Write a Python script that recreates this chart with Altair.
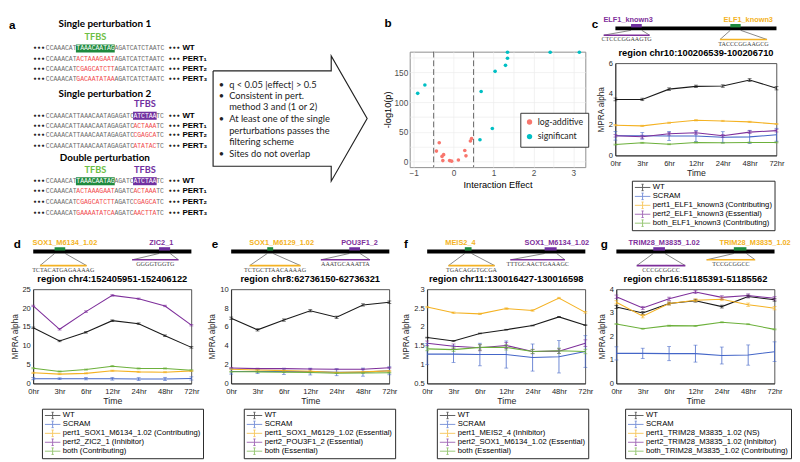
import altair as alt
import pandas as pd

FONT = "Liberation Sans"
TXT = "#262626"

# ---------------------------------------------------------------- panel a
A_TITLES = ["Single perturbation 1", "Single perturbation 2", "Double perturbation"]
A_ROW_LABELS = ["WT", "PERT\u2081", "PERT\u2082", "PERT\u2083"]
SP1 = [
    [("CCAAACAT", "n"), ("TAAACAATAG", "g"), ("AGATCATCTAATC", "n")],
    [("CCAAACAT", "n"), ("ACTAAAGAAT", "r"), ("AGATCATCTAATC", "n")],
    [("CCAAACAT", "n"), ("CGAGCATCTT", "r"), ("AGATCATCTAATC", "n")],
    [("CCAAACAT", "n"), ("GACAATATAA", "r"), ("AGATCATCTAATC", "n")],
]
SP2 = [
    [("CCAAACATTAAACAATAGAGATC", "n"), ("ATCTAA", "p"), ("TC", "n")],
    [("CCAAACATTAAACAATAGAGATC", "n"), ("ACTAAA", "r"), ("TC", "n")],
    [("CCAAACATTAAACAATAGAGATC", "n"), ("CGAGCA", "r"), ("TC", "n")],
    [("CCAAACATTAAACAATAGAGATC", "n"), ("ATATAC", "r"), ("TC", "n")],
]
DP = [
    [("CCAAACAT", "n"), ("TAAACAATAG", "g"), ("AGATC", "n"), ("ATCTAA", "p"), ("TC", "n")],
    [("CCAAACAT", "n"), ("ACTAAAGAAT", "r"), ("AGATC", "n"), ("ACTAAA", "r"), ("TC", "n")],
    [("CCAAACAT", "n"), ("CGAGCATCTT", "r"), ("AGATC", "n"), ("CGAGCA", "r"), ("TC", "n")],
    [("CCAAACAT", "n"), ("GAAAATATCA", "r"), ("AGATC", "n"), ("AACTTA", "r"), ("TC", "n")],
]
FILTER_BULLETS = ["\u2022", "\u2022", "", "\u2022", "", "", "\u2022"]
FILTER_TEXT = ["q < 0.05 |effect| > 0.5", "Consistent in pert.", "method 3 and (1 or 2)",
               "At least one of the single", "perturbations passes the", "filtering scheme",
               "Sites do not overlap"]
ARROW_X = [216, 341, 341, 379, 341, 341, 216, 216]
ARROW_Y = [60, 60, 44, 111, 178, 162, 162, 60]

# ---------------------------------------------------------------- panel b
B_LOGADD_X = [-0.36, -0.43, -0.25, -0.29, -0.27, -0.10, -0.05, 0.12, 0.28, 0.31, 0.42, 0.45]
B_LOGADD_Y = [32, 18, 12, 9, 2, 2, 1, 3, 19, 10, 35, 39]
B_SIG_X = [-0.90, -0.72, 0.66, 0.69, 0.97, 1.04, 1.30, 1.35, 1.35, 2.42, 3.15]
B_SIG_Y = [115, 129, 37, 118, 56, 152, 162, 174, 184, 184, 184]
B_THRESH = [-0.5, 0.5]

# ---------------------------------------------------------------- panels c-g
TIMES = ["0hr", "3hr", "6hr", "12hr", "24hr", "48hr", "72hr"]
SERIES_COLORS = ["#1A1A1A", "#4466C8", "#F4B223", "#7E2F9B", "#6CB03B"]
ROLE_COLORS = ["#F4B223", "#7E2F9B"]  # pert1, pert2
REGION_LEN = 171

SCRAM = [1.28, 1.28, 1.27, 1.27, 1.19, 1.21, 1.35]
SCRAM_ERR = [0.28, 0.22, 0.30, 0.36, 0.36, 0.43, 0.42]

C_TITLE = "region chr10:100206539-100206710"
C_LABELS = ["WT", "SCRAM", "pert1_ELF1_known3 (Contributing)", "pert2_ELF1_known3 (Essential)",
            "both_ELF1_known3 (Contributing)"]
C_WT = [3.65, 3.65, 4.32, 4.50, 4.52, 4.91, 4.38]
C_WT_ERR = [0.09, 0.08, 0.08, 0.08, 0.08, 0.09, 0.11]
C_P1 = [1.97, 1.93, 2.13, 2.29, 2.25, 2.19, 2.05]
C_P1_ERR = [0.04, 0.04, 0.04, 0.04, 0.04, 0.04, 0.04]
C_P2 = [1.28, 1.22, 1.42, 1.48, 1.28, 1.52, 1.62]
C_P2_ERR = [0.08, 0.10, 0.09, 0.10, 0.09, 0.09, 0.09]
C_BOTH = [0.71, 0.83, 0.73, 0.85, 0.83, 0.85, 0.85]
C_BOTH_ERR = [0.03, 0.03, 0.03, 0.03, 0.03, 0.03, 0.03]
C_MOTIF_NAMES = ["ELF1_known3", "ELF1_known3"]
C_MOTIF_ROLES = ["pert2", "pert1"]
C_MOTIF_BP = [(16.6, 28.0), (122.0, 133.0)]
C_ZOOM_BP = [(-12.4, 36.3), (111.0, 161.0)]
C_LABEL_BP = [13.5, 141.0]
C_SEQS = ["CTCCCGGAAGTG", "TACCCGGAAGCG"]

D_TITLE = "region chr4:152405951-152406122"
D_LABELS = ["WT", "SCRAM", "pert1_SOX1_M6134_1.02 (Contributing)", "pert2_ZIC2_1 (Inhibitor)",
            "both (Contributing)"]
D_WT = [14.8, 11.3, 13.6, 16.7, 15.9, 12.7, 9.6]
D_WT_ERR = [0.2, 0.2, 0.2, 0.2, 0.2, 0.2, 0.2]
D_P1 = [2.85, 2.5, 2.7, 3.4, 3.1, 3.0, 3.35]
D_P1_ERR = [0.15, 0.15, 0.15, 0.15, 0.15, 0.15, 0.15]
D_P2 = [20.6, 14.4, 19.1, 23.4, 22.5, 20.6, 15.5]
D_P2_ERR = [0.2, 0.2, 0.2, 0.2, 0.2, 0.2, 0.2]
D_BOTH = [4.05, 3.2, 3.7, 4.6, 4.0, 4.0, 3.5]
D_BOTH_ERR = [0.15, 0.15, 0.15, 0.15, 0.15, 0.15, 0.15]
D_MOTIF_NAMES = ["SOX1_M6134_1.02", "ZIC2_1"]
D_MOTIF_ROLES = ["pert1", "pert2"]
D_MOTIF_BP = [(23.1, 34.6), (136.0, 148.0)]
D_ZOOM_BP = [(7.3, 57.7), (107.0, 157.0)]
D_LABEL_BP = [34.3, 138.5]
D_SEQS = ["TCTACATGAGAAAAG", "GGGGTGGTG"]

E_TITLE = "region chr8:62736150-62736321"
E_LABELS = ["WT", "SCRAM", "pert1_SOX1_M6129_1.02 (Essential)", "pert2_POU3F1_2 (Essential)",
            "both (Essential)"]
E_WT = [6.94, 5.70, 6.74, 7.73, 7.04, 8.35, 8.63]
E_WT_ERR = [0.12, 0.12, 0.12, 0.12, 0.12, 0.12, 0.14]
E_P1 = [1.51, 1.44, 1.37, 1.31, 1.17, 1.24, 1.34]
E_P1_ERR = [0.05, 0.05, 0.05, 0.05, 0.05, 0.05, 0.05]
E_P2 = [1.65, 1.58, 1.58, 1.55, 1.51, 1.51, 1.68]
E_P2_ERR = [0.05, 0.05, 0.05, 0.05, 0.05, 0.05, 0.05]
E_BOTH = [1.25, 1.24, 1.20, 1.17, 1.10, 1.12, 1.15]
E_BOTH_ERR = [0.04, 0.04, 0.04, 0.04, 0.04, 0.04, 0.04]
E_MOTIF_NAMES = ["SOX1_M6129_1.02", "POU3F1_2"]
E_MOTIF_ROLES = ["pert1", "pert2"]
E_MOTIF_BP = [(39.0, 45.4), (127.7, 139.3)]
E_ZOOM_BP = [(20.0, 75.0), (97.0, 150.0)]
E_LABEL_BP = [54.6, 138.8]
E_SEQS = ["TCTGCTTAACAAAAG", "AAATGCAAATTA"]

F_TITLE = "region chr11:130016427-130016598"
F_LABELS = ["WT", "SCRAM", "pert1_MEIS2_4 (Inhibitor)", "pert2_SOX1_M6134_1.02 (Essential)",
            "both (Essential)"]
F_WT = [1.72, 1.63, 1.83, 1.93, 2.04, 2.27, 2.05]
F_WT_ERR = [0.01, 0.01, 0.01, 0.01, 0.01, 0.01, 0.01]
F_P1 = [2.53, 2.38, 2.35, 2.49, 2.44, 2.77, 2.39]
F_P1_ERR = [0.02, 0.02, 0.02, 0.02, 0.02, 0.02, 0.02]
F_P2 = [1.57, 1.49, 1.45, 1.51, 1.35, 1.36, 1.57]
F_P2_ERR = [0.06, 0.06, 0.08, 0.08, 0.06, 0.06, 0.09]
F_BOTH = [1.42, 1.40, 1.46, 1.46, 1.35, 1.37, 1.35]
F_BOTH_ERR = [0.05, 0.05, 0.07, 0.07, 0.05, 0.07, 0.06]
F_MOTIF_NAMES = ["MEIS2_4", "SOX1_M6134_1.02"]
F_MOTIF_ROLES = ["pert1", "pert2"]
F_MOTIF_BP = [(40.7, 48.0), (127.0, 140.0)]
F_ZOOM_BP = [(23.0, 73.0), (90.0, 149.0)]
F_LABEL_BP = [36.0, 140.2]
F_SEQS = ["TGACAGGTGCGA", "TTTGCAACTGAAAGC"]

G_TITLE = "region chr16:51185391-51185562"
G_LABELS = ["WT", "SCRAM", "pert1_TRIM28_M3835_1.02 (NS)", "pert2_TRIM28_M3835_1.02 (Inhibitor)",
            "both_TRIM28_M3835_1.02 (Contributing)"]
G_WT = [3.25, 3.00, 3.40, 3.52, 3.27, 3.70, 3.56]
G_WT_ERR = [0.06, 0.06, 0.06, 0.06, 0.06, 0.06, 0.06]
G_P1 = [3.45, 2.86, 3.40, 3.54, 3.58, 3.35, 3.20]
G_P1_ERR = [0.07, 0.07, 0.06, 0.06, 0.06, 0.07, 0.07]
G_P2 = [3.69, 3.21, 3.60, 3.89, 3.66, 3.74, 3.62]
G_P2_ERR = [0.07, 0.07, 0.07, 0.07, 0.07, 0.07, 0.07]
G_BOTH = [2.53, 2.33, 2.46, 2.45, 2.60, 2.52, 2.30]
G_BOTH_ERR = [0.02, 0.02, 0.02, 0.02, 0.02, 0.02, 0.02]
G_MOTIF_NAMES = ["TRIM28_M3835_1.02", "TRIM28_M3835_1.02"]
G_MOTIF_ROLES = ["pert2", "pert1"]
G_MOTIF_BP = [(39.9, 52.5), (127.0, 140.6)]
G_ZOOM_BP = [(22.0, 74.5), (97.6, 150.0)]
G_LABEL_BP = [51.7, 150.0]
G_SEQS = ["CCCGCGGCC", "TCCGCGGCC"]

NO_STROKE = alt.ViewBackground(stroke="transparent")
BOX = alt.ViewBackground(stroke=TXT, strokeWidth=0.8)


# ================================================================ panel a
def panel_a():
    cw, x0 = 4.03, 39.0
    row_y = [[36, 47, 58, 69], [108, 118.5, 129, 140], [178, 189, 200.5, 212]]
    title_y = [10, 85, 153]
    tfbs_y = [24, 96, 166]
    segs, hls, labs, dots, tfbs = [], [], [], [], []
    for gi, grp in enumerate([SP1, SP2, DP]):
        for ri, row in enumerate(grp):
            y = row_y[gi][ri]
            pos = 0
            for text, kind in row:
                x = x0 + pos * cw
                segs.append({"x": x, "y": y, "text": text, "kind": kind})
                if kind in ("g", "p"):
                    hls.append({"x": x - 0.4, "x2": x + len(text) * cw + 0.4,
                                "y": y - 4.3, "y2": y + 4.3, "kind": kind})
                    if ri == 0:
                        tfbs.append({"x": x + len(text) * cw / 2, "y": tfbs_y[gi],
                                     "text": "TFBS", "kind": kind})
                pos += len(text)
            labs.append({"x": 183.5, "y": y, "text": A_ROW_LABELS[ri]})
            dots.append({"x": 25.5, "y": y, "text": "\u2022\u2022\u2022"})
            dots.append({"x": 168.5, "y": y, "text": "\u2022\u2022\u2022"})
    titles = pd.DataFrame({"x": [x0 + 31 * cw / 2] * 3, "y": title_y, "text": A_TITLES})
    box_y = [75, 87, 99, 112, 124, 136, 149]
    box = pd.DataFrame({"y": box_y, "b": FILTER_BULLETS, "t": FILTER_TEXT,
                        "bx": [222] * len(box_y), "tx": [233] * len(box_y)})
    arrow = pd.DataFrame({"x": ARROW_X, "y": ARROW_Y, "o": list(range(len(ARROW_X)))})
    letter = pd.DataFrame({"x": [0], "y": [11], "t": ["a"]})

    xs = alt.Scale(domain=[0, 384], range=[-25, 349], nice=False, zero=False)
    ys = alt.Scale(domain=[0, 218], range=[-12, 198], nice=False, zero=False)
    X = alt.X("x:Q", scale=xs, axis=None)
    Y = alt.Y("y:Q", scale=ys, axis=None)
    kinds = ["n", "r", "g", "p"]
    txtc = alt.Color("kind:N", scale=alt.Scale(domain=kinds, range=["#6B6B6B", "#F0484A", "#FFFFFF", "#FFFFFF"]), legend=None)
    fillc = alt.Color("kind:N", scale=alt.Scale(domain=["g", "p"], range=["#1F8A3E", "#7030A0"]), legend=None)
    tfc = alt.Color("kind:N", scale=alt.Scale(domain=["g", "p"], range=["#6DBE45", "#7030A0"]), legend=None)

    hl = alt.Chart(pd.DataFrame(hls)).mark_rect().encode(x=X, x2="x2:Q", y=Y, y2="y2:Q", fill=fillc)
    seq = alt.Chart(pd.DataFrame(segs)).mark_text(align="left", baseline="middle", font="Liberation Mono",
                                                  fontSize=6.6).encode(x=X, y=Y, text="text:N", color=txtc)
    lab = alt.Chart(pd.DataFrame(labs)).mark_text(align="left", baseline="middle", font=FONT, fontSize=8.2,
                                                  fontWeight="bold", color="black").encode(x=X, y=Y, text="text:N")
    dot = alt.Chart(pd.DataFrame(dots)).mark_text(align="left", baseline="middle", font="DejaVu Sans", fontSize=6.5,
                                                  fontWeight="bold", color="#222").encode(x=X, y=Y, text="text:N")
    ttl = alt.Chart(titles).mark_text(align="center", baseline="middle", font="Lato", fontSize=10.2,
                                      fontWeight="bold", color="black").encode(x=X, y=Y, text="text:N")
    tf = alt.Chart(pd.DataFrame(tfbs)).mark_text(align="center", baseline="middle", font="Lato", fontSize=9.5,
                                                 fontWeight="bold").encode(x=X, y=Y, text="text:N", color=tfc)
    arr = alt.Chart(arrow).mark_line(color="#222", strokeWidth=1.2).encode(x=X, y=Y, order="o:Q")
    bul = alt.Chart(box).mark_text(align="left", baseline="middle", font="Lato", fontSize=9.5,
                                   color="#222").encode(x=alt.X("bx:Q", scale=xs, axis=None), y=Y, text="b:N")
    btx = alt.Chart(box).mark_text(align="left", baseline="middle", font="Lato", fontSize=9.6,
                                   color="#222").encode(x=alt.X("tx:Q", scale=xs, axis=None), y=Y, text="t:N")
    let = alt.Chart(letter).mark_text(align="left", baseline="middle", font=FONT, fontSize=12,
                                      fontWeight="bold", color="black").encode(x=X, y=Y, text="t:N")
    return alt.layer(hl, seq, lab, dot, ttl, tf, arr, bul, btx, let).properties(
        width=356, height=198, view=NO_STROKE).resolve_scale(color="independent")


# ================================================================ panel b
def panel_b():
    df = pd.DataFrame({
        "x": B_LOGADD_X + B_SIG_X,
        "y": B_LOGADD_Y + B_SIG_Y,
        "g": ["log-additive"] * len(B_LOGADD_X) + ["significant"] * len(B_SIG_X),
    })
    xs = alt.Scale(domain=[-1.1, 3.3], nice=False, zero=False)
    ys = alt.Scale(domain=[-9, 185], nice=False, zero=False)
    common = dict(grid=True, gridColor="#EBEBEB", gridWidth=0.7, ticks=False, domain=False,
                  labelColor="#4D4D4D", labelFontSize=8.5, titleColor="black", titleFontSize=9.5,
                  labelPadding=2, titlePadding=2, format="~r")
    xa = alt.Axis(title="Interaction Effect", values=[-1, -0.5, 0, 0.5, 1, 1.5, 2, 2.5, 3],
                  labelExpr="datum.value % 1 == 0 ? datum.label : ''", **common)
    ya = alt.Axis(title="-log10(p)", values=[0, 25, 50, 75, 100, 125, 150, 175],
                  labelExpr="datum.value % 50 == 0 ? datum.label : ''", **common)
    leg = alt.Legend(orient="none", legendX=114, legendY=63, title=None, fillColor="white",
                     strokeColor="#333333", padding=5, rowPadding=5, symbolSize=30, symbolType="circle",
                     labelFont="Lato", labelFontSize=9, labelColor="#222")
    pts = alt.Chart(df).mark_circle(size=14, opacity=1).encode(
        x=alt.X("x:Q", scale=xs, axis=xa), y=alt.Y("y:Q", scale=ys, axis=ya),
        color=alt.Color("g:N", scale=alt.Scale(domain=["log-additive", "significant"],
                                               range=["#F8766D", "#00BFC4"]), legend=leg))
    vl = alt.Chart(pd.DataFrame({"x": B_THRESH})).mark_rule(strokeDash=[6, 3], color="#555555",
                                                            strokeWidth=0.9).encode(
        x=alt.X("x:Q", scale=xs, axis=xa))
    plot = alt.layer(pts, vl).properties(width=181, height=119,
                                         view=alt.ViewBackground(stroke="#8C8C8C", strokeWidth=1))
    spacer = alt.Chart(pd.DataFrame({"t": ["b"]})).mark_text(
        align="left", baseline="top", font=FONT, fontSize=12, fontWeight="bold").encode(
        text="t:N", x=alt.value(-26), y=alt.value(-8)).properties(width=181, height=23, view=NO_STROKE)
    return alt.vconcat(spacer, plot, spacing=0).resolve_scale(color="independent")


# ================================================================ tracks
TRACK_SHIFT = 8


def track(letter, ldx_bp, letter_y, names, roles, motif_bp, zoom_bp, label_bp, seqs, w, th, bar_c, u_levels):
    bar_top, bar_bot = bar_c - 2, bar_c + 2
    lab_y = bar_c - 9
    rect_m, fans, uls, labs, sqs = [], [], [], [], []
    for i in range(len(names)):
        m0, m1 = motif_bp[i]
        u0, u1 = zoom_bp[i]
        uy = u_levels[i]
        rect_m.append({"x": m0, "x2": m1, "y": bar_top - 2.5, "y2": bar_top + 1, "role": roles[i]})
        fans.append({"x": m0, "y": bar_bot, "x2": u0, "y2": uy})
        fans.append({"x": m1, "y": bar_bot, "x2": u1, "y2": uy})
        uls.append({"x": u0, "x2": u1, "y": uy, "role": roles[i]})
        labs.append({"x": label_bp[i], "y": lab_y, "t": names[i], "role": roles[i]})
        sqs.append({"x": (u0 + u1) / 2, "y": uy + 4.2, "t": seqs[i]})
    xs = alt.Scale(domain=[0, REGION_LEN], nice=False, zero=False)
    ys = alt.Scale(domain=[0, th], range=[-TRACK_SHIFT, th - TRACK_SHIFT], nice=False, zero=False)
    X = alt.X("x:Q", scale=xs, axis=None)
    Y = alt.Y("y:Q", scale=ys, axis=None)
    rc = alt.Color("role:N", scale=alt.Scale(domain=["pert1", "pert2"], range=ROLE_COLORS), legend=None)
    bar = alt.Chart(pd.DataFrame({"x": [0], "x2": [REGION_LEN], "y": [bar_top], "y2": [bar_bot]})).mark_rect(
        color="black").encode(x=X, x2="x2:Q", y=Y, y2="y2:Q")
    mot = alt.Chart(pd.DataFrame(rect_m)).mark_rect().encode(x=X, x2="x2:Q", y=Y, y2="y2:Q", fill=rc)
    fan = alt.Chart(pd.DataFrame(fans)).mark_rule(color="#333333", strokeWidth=0.6).encode(
        x=X, x2="x2:Q", y=Y, y2="y2:Q")
    ul = alt.Chart(pd.DataFrame(uls)).mark_rule(strokeWidth=1.6).encode(x=X, x2="x2:Q", y=Y, color=rc)
    lab = alt.Chart(pd.DataFrame(labs)).mark_text(align="center", baseline="middle", font=FONT, fontSize=7.6,
                                                  fontWeight="bold").encode(x=X, y=Y, text="t:N", color=rc)
    sq = alt.Chart(pd.DataFrame(sqs)).mark_text(align="center", baseline="middle", font="Liberation Serif",
                                                fontSize=6.3, color="#444444").encode(x=X, y=Y, text="t:N")
    let = alt.Chart(pd.DataFrame({"x": [ldx_bp], "y": [letter_y], "t": [letter]})).mark_text(
        align="left", baseline="middle", font=FONT, fontSize=12, fontWeight="bold", color="black").encode(
        text="t:N", x=X, y=Y)
    return alt.layer(bar, mot, fan, ul, lab, sq, let).properties(width=w, height=th - TRACK_SHIFT, view=NO_STROKE)


SYM = ("M-1,0L1,0M0,-0.42L0,0.42M-0.14,-0.42L0.14,-0.42M-0.14,0.42L0.14,0.42")


def line_panel(title, labels, series, errs, ydom, yvals, w, h, lx, ly):
    rows = []
    for lab, vals, es in zip(labels, series, errs):
        for t, v, e in zip(TIMES, vals, es):
            rows.append({"time": t, "series": lab, "v": v, "lo": v - e, "hi": v + e})
    df = pd.DataFrame(rows)
    xs = alt.Scale(type="point", padding=0)
    ys = alt.Scale(domain=ydom, nice=False, zero=False)
    cs = alt.Scale(domain=labels, range=SERIES_COLORS)
    leg = alt.Legend(orient="none", legendX=lx, legendY=ly, title=None, symbolType=SYM, symbolSize=256,
                     symbolStrokeWidth=1, clipHeight=8.9, rowPadding=0.2, labelFontSize=7.9, labelFont=FONT,
                     labelColor="black", labelOffset=2, strokeColor=TXT, fillColor="white", padding=2.5,
                     labelLimit=400)
    xa = alt.Axis(title="Time", labelAngle=0, labelFontSize=7.8, titleFontSize=9, labelPadding=4, titlePadding=2)
    ya = alt.Axis(title="MPRA alpha", values=yvals, format="~r", labelFontSize=7.8, titleFontSize=8.4,
                  labelPadding=3, titlePadding=3)
    X = alt.X("time:O", sort=TIMES, scale=xs, axis=xa)
    C = alt.Color("series:N", scale=cs, legend=leg)
    base = alt.Chart(df)
    line = base.mark_line(strokeWidth=1.1).encode(x=X, y=alt.Y("v:Q", scale=ys, axis=ya), color=C)
    bars = base.mark_rule(strokeWidth=0.8).encode(x=X, y=alt.Y("lo:Q", scale=ys, axis=ya), y2="hi:Q", color=C)
    cl = base.mark_tick(size=4, thickness=0.8).encode(x=X, y=alt.Y("lo:Q", scale=ys, axis=ya), color=C)
    ch = base.mark_tick(size=4, thickness=0.8).encode(x=X, y=alt.Y("hi:Q", scale=ys, axis=ya), color=C)
    return alt.layer(line, bars, cl, ch).properties(
        width=w, height=h, view=BOX,
        title=alt.TitleParams(title, font=FONT, fontSize=9.6, fontWeight="bold", color="black", offset=2))


def block(letter, ldx, ly_letter, names, roles, mbp, zbp, lbp, seqs, title, labels, series, errs, ydom, yvals,
          w, h, th, bar_c, ulev, lx, ly):
    t = track(letter, ldx, ly_letter, names, roles, mbp, zbp, lbp, seqs, w, th, bar_c, ulev)
    p = line_panel(title, labels, series, errs, ydom, yvals, w, h, lx, ly)
    return alt.vconcat(t, p, spacing=0).resolve_scale(color="independent", x="independent", y="independent")


W_TOP, H_TOP = 166, 95
W_BOT, H_BOT = 163, 97

c_block = block("c", -25, 6, C_MOTIF_NAMES, C_MOTIF_ROLES, C_MOTIF_BP, C_ZOOM_BP, C_LABEL_BP, C_SEQS,
                C_TITLE, C_LABELS, [C_WT, SCRAM, C_P1, C_P2, C_BOTH],
                [C_WT_ERR, SCRAM_ERR, C_P1_ERR, C_P2_ERR, C_BOTH_ERR],
                [0, 6], [0, 2, 4, 6], W_TOP, H_TOP, 28, 10, [17, 21.5], 17, H_TOP + 26)
d_block = block("d", -21, 7, D_MOTIF_NAMES, D_MOTIF_ROLES, D_MOTIF_BP, D_ZOOM_BP, D_LABEL_BP, D_SEQS,
                D_TITLE, D_LABELS, [D_WT, SCRAM, D_P1, D_P2, D_BOTH],
                [D_WT_ERR, SCRAM_ERR, D_P1_ERR, D_P2_ERR, D_BOTH_ERR],
                [0, 25], [0, 5, 10, 15, 20, 25], W_BOT, H_BOT, 37, 15, [29.5, 23.5], 9, H_BOT + 26)
e_block = block("e", -21, 7, E_MOTIF_NAMES, E_MOTIF_ROLES, E_MOTIF_BP, E_ZOOM_BP, E_LABEL_BP, E_SEQS,
                E_TITLE, E_LABELS, [E_WT, SCRAM, E_P1, E_P2, E_BOTH],
                [E_WT_ERR, SCRAM_ERR, E_P1_ERR, E_P2_ERR, E_BOTH_ERR],
                [0, 10], [0, 2, 4, 6, 8, 10], W_BOT, H_BOT, 37, 15, [29.5, 23.5], 13, H_BOT + 26)
f_block = block("f", -25, 7, F_MOTIF_NAMES, F_MOTIF_ROLES, F_MOTIF_BP, F_ZOOM_BP, F_LABEL_BP, F_SEQS,
                F_TITLE, F_LABELS, [F_WT, SCRAM, F_P1, F_P2, F_BOTH],
                [F_WT_ERR, SCRAM_ERR, F_P1_ERR, F_P2_ERR, F_BOTH_ERR],
                [0.5, 3], [0.5, 1, 1.5, 2, 2.5, 3], W_BOT, H_BOT, 37, 15, [29.5, 23.5], 10, H_BOT + 26)
g_block = block("g", -17, 7, G_MOTIF_NAMES, G_MOTIF_ROLES, G_MOTIF_BP, G_ZOOM_BP, G_LABEL_BP, G_SEQS,
                G_TITLE, G_LABELS, [G_WT, SCRAM, G_P1, G_P2, G_BOTH],
                [G_WT_ERR, SCRAM_ERR, G_P1_ERR, G_P2_ERR, G_BOTH_ERR],
                [0, 4], [0, 1, 2, 3, 4], W_BOT, H_BOT, 37, 15, [29.5, 23.5], 9, H_BOT + 26)

top = alt.ConcatChart(concat=[panel_a(), panel_b(), c_block], columns=3, align="none", spacing=2).resolve_scale(
    color="independent", x="independent", y="independent")
bottom = alt.ConcatChart(concat=[d_block, e_block, f_block, g_block], columns=4, align="none",
                         spacing=3).resolve_scale(color="independent", x="independent", y="independent")

chart = alt.ConcatChart(concat=[top, bottom], columns=1, align="none", spacing=6).resolve_scale(
    color="independent", x="independent", y="independent").properties(
    padding=0, background="white").configure_view(stroke="transparent").configure_axis(
    labelFont=FONT, titleFont=FONT, labelColor=TXT, titleColor=TXT, titleFontWeight="normal",
    domainColor=TXT, domainWidth=0.8, ticks=False, labelPadding=2, titlePadding=2, grid=False)

chart.save("out.html", embed_options={"renderer": "svg", "actions": False})
